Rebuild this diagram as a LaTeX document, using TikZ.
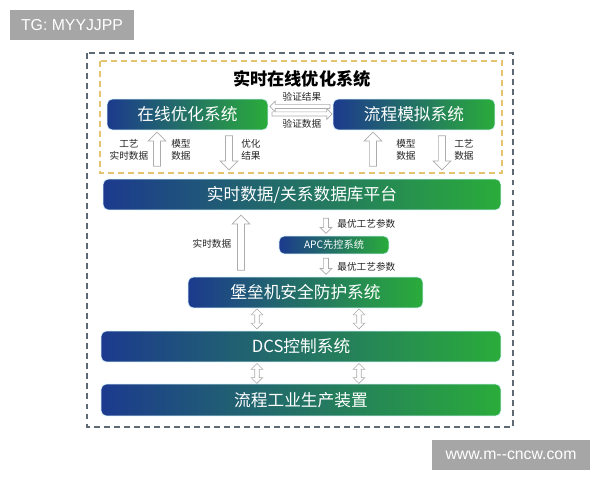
\documentclass[tikz,border=0pt]{standalone}
\usepackage{fontspec}
\setmainfont{Noto Sans CJK SC}
\newfontfamily\wmfont{Liberation Sans}
\usetikzlibrary{shapes,arrows,positioning,calc}

\begin{document}
\begin{tikzpicture}[x=0.02cm, y=-0.02cm,
    sysbox/.style={rounded corners=3pt, left color=cblue, right color=cgreen, draw=cyan!15, text=white, inner sep=0pt, font=\fontsize{9.5}{11}\selectfont},
    lbl/.style={font=\fontsize{5.5}{6.5}\selectfont, align=center, text=black!85, inner sep=0pt},
    blockarrow/.style={single arrow, draw=gray!65, fill=white, line width=0.4pt, inner sep=0.065cm, single arrow head extend=0.105cm},
    thinarrow/.style={blockarrow, inner sep=0.045cm, single arrow head extend=0.065cm},
    dblarrow/.style={double arrow, draw=gray!65, fill=white, line width=0.4pt, shape border rotate=90, minimum height=0.4cm, inner sep=0.04cm, double arrow head extend=0.07cm},
    wmark/.style={fill=wmgray, text=white, inner sep=0pt, font=\wmfont\fontsize{9}{11}\selectfont}]
        \definecolor{cblue}{RGB}{28,58,142}
        \definecolor{cgreen}{RGB}{42,172,58}
        \definecolor{wmgray}{RGB}{166,166,166}
        \definecolor{outerdash}{RGB}{95,105,115}
        \definecolor{innerdash}{RGB}{228,196,110}

        \useasboundingbox (0,0) rectangle (600,480);

        % Watermarks
        \node[wmark, minimum width=2.48cm, minimum height=0.6cm] (tg) at (72,25) {TG: MYYJJPP};
        \node[wmark, minimum width=3.16cm, minimum height=0.6cm] (www) at (511,455) {www.m--cncw.com};

        % Dashed frames
        \draw[outerdash, line width=0.6pt, dash pattern=on 3.4pt off 2.3pt] (87,53) rectangle (513,427);
        \draw[innerdash, line width=0.6pt, dash pattern=on 3.4pt off 2.3pt] (100,61) rectangle (502,173);

        % Title
        \node[font=\fontsize{9.8}{11}\selectfont\bfseries] (title) at (302,79) {实时在线优化系统};

        % System boxes
        \node[sysbox, minimum width=3.22cm, minimum height=0.62cm] (online) at (187.5,114.5) {在线优化系统};
        \node[sysbox, minimum width=3.24cm, minimum height=0.62cm] (sim) at (414,114.5) {流程模拟系统};
        \node[sysbox, minimum width=7.96cm, minimum height=0.62cm] (platform) at (302,194.5) {实时数据/关系数据库平台};
        \node[sysbox, minimum width=2.2cm, minimum height=0.36cm, font=\fontsize{5.8}{7}\selectfont] (apc) at (334,245) {APC先控系统};
        \node[sysbox, minimum width=4.7cm, minimum height=0.62cm] (bastion) at (305.5,292.5) {堡垒机安全防护系统};
        \node[sysbox, minimum width=8cm, minimum height=0.62cm] (dcs) at (301,346.5) {DCS控制系统};
        \node[sysbox, minimum width=8cm, minimum height=0.64cm] (plant) at (301,400) {流程工业生产装置};

        % Verification arrows
        \node[thinarrow, shape border rotate=180, minimum height=1.2cm, inner sep=0.035cm] (vres) at (301,106.5) {};
        \node[thinarrow, minimum height=1.2cm, inner sep=0.035cm] (vdat) at (301,114) {};
        \node[lbl] (vreslbl) at (302,97) {验证结果};
        \node[lbl] (vdatlbl) at (302,124) {验证数据};

        % Arrows under the top boxes
        \node[blockarrow, shape border rotate=90, minimum height=0.68cm] (up1) at (157,151) {};
        \node[blockarrow, shape border rotate=270, minimum height=0.68cm] (down1) at (229,151) {};
        \node[blockarrow, shape border rotate=90, minimum height=0.68cm] (up2) at (373,151) {};
        \node[blockarrow, shape border rotate=270, minimum height=0.68cm] (down2) at (442,151) {};
        \node[lbl] (l1) at (129,150) {工艺\\实时数据};
        \node[lbl] (l2) at (181,150) {模型\\数据};
        \node[lbl] (l3) at (251,150) {优化\\结果};
        \node[lbl] (l4) at (406,150) {模型\\数据};
        \node[lbl] (l5) at (464,150) {工艺\\数据};

        % Real-time data arrow
        \node[blockarrow, shape border rotate=90, minimum height=1.1cm] (rtup) at (241,244.5) {};
        \node[lbl] (rtlbl) at (212,244) {实时数据};

        % Optimal parameter arrows
        \node[thinarrow, shape border rotate=270, minimum height=0.3cm] (opt1) at (326,224.5) {};
        \node[thinarrow, shape border rotate=270, minimum height=0.32cm] (opt2) at (326,265) {};
        \node[lbl, anchor=west] (opt1lbl) at (337,224) {最优工艺参数};
        \node[lbl, anchor=west] (opt2lbl) at (337,267) {最优工艺参数};

        % Two-way links
        \node[dblarrow] (b1) at (257,319) {};
        \node[dblarrow] (b2) at (359,319) {};
        \node[dblarrow] (b3) at (257,373.5) {};
        \node[dblarrow] (b4) at (359,373.5) {};
    \end{tikzpicture}
\end{document}
